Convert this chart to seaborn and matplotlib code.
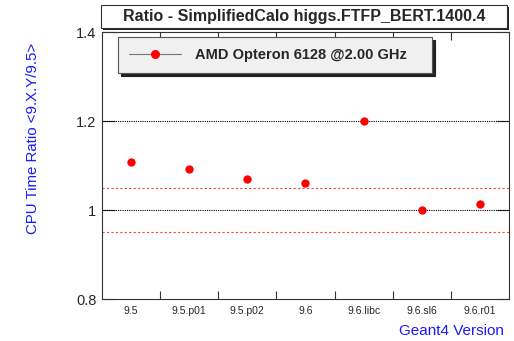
import matplotlib
matplotlib.use("Agg")
import matplotlib.pyplot as plt
from matplotlib.lines import Line2D
from matplotlib.patches import Rectangle
import seaborn as sns
import pandas as pd

versions = ["9.5", "9.5.p01", "9.5.p02", "9.6", "9.6.libc", "9.6.sl6", "9.6.r01"]
ratios = [1.108, 1.092, 1.070, 1.061, 1.200, 1.000, 1.013]
yticks = [0.8, 1.0, 1.2, 1.4]
ytick_labels = ["0.8", "1", "1.2", "1.4"]
title = "Ratio - SimplifiedCalo higgs.FTFP_BERT.1400.4"
legend_label = "AMD Opteron 6128 @2.00 GHz"

sns.set_theme(style="white")
plt.rcParams['font.family'] = ['Liberation Sans', 'DejaVu Sans']

W, H = 514, 341
fig = plt.figure(figsize=(W / 100, H / 100), dpi=100)
ax = fig.add_axes([102 / W, 1 - 299 / H, (509 - 102) / W, (299 - 32) / H])

df = pd.DataFrame({"version": versions, "ratio": ratios})
sns.scatterplot(data=df, x="version", y="ratio", ax=ax, color="#ff0000",
                s=36, linewidth=0, zorder=5, legend=False)

ax.set_xlim(-0.5, len(versions) - 0.5)
ax.set_ylim(0.8, 1.4)

# reference lines
for y in [1.2, 1.0]:
    ax.axhline(y, color="black", lw=0.8, ls=(0, (1, 1)), zorder=2)
for y in [1.05, 0.95]:
    ax.axhline(y, color="#ff4040", lw=0.8, ls=(0, (2, 2)), zorder=2)

# ticks
ax.set_xticks(range(len(versions)))
ax.set_xticklabels(versions, fontsize=7.5)
ax.set_xticks([i + 0.5 for i in range(len(versions) - 1)], minor=True)
ax.tick_params(axis="x", which="major", length=0, pad=5)
ax.tick_params(axis="x", which="minor", direction="in", length=6, width=0.8,
               top=True, bottom=True, color="#333333")
ax.set_yticks(yticks)
ax.set_yticklabels(ytick_labels, fontsize=10.5)
ax.tick_params(axis="y", which="major", direction="in", length=9, width=0.8,
               left=True, right=True, color="#333333", pad=4)
ax.set_xlabel("")
ax.set_ylabel("")
for sp in ax.spines.values():
    sp.set_color("#333333")
    sp.set_linewidth(0.8)

# axis titles
fig.text(33 / W, 1 - 43 / H, "CPU Time Ratio <9.X.Y/9.5>", rotation=90,
         ha="center", va="top", color="#1a1aff", fontsize=10.8)
fig.text(504 / W, 1 - 331 / H, "Geant4 Version", ha="right", va="center",
         color="#1a1aff", fontsize=11)

# title box
x0, x1, y0, y1 = 101, 507, 5, 28
fig.patches.append(Rectangle((x0 / W + 2 / W, 1 - (y1 + 2) / H), (x1 - x0) / W, (y1 - y0) / H,
                             transform=fig.transFigure, facecolor="#222222", edgecolor="none", zorder=1))
fig.patches.append(Rectangle((x0 / W, 1 - y1 / H), (x1 - x0) / W, (y1 - y0) / H,
                             transform=fig.transFigure, facecolor="white", edgecolor="#333333",
                             lw=0.8, zorder=2))
fig.text((x0 + x1) / 2 / W, 1 - (y0 + y1) / 2 / H, title, ha="center", va="center",
         fontsize=11.5, fontweight="bold", zorder=3)

# legend
handle = Line2D([0], [0], color="#777777", lw=0.8, marker="o", markersize=5.5,
                markerfacecolor="#ff0000", markeredgecolor="#ff0000")
lx0, lx1, ly0, ly1 = 118, 432, 38, 72
leg = ax.legend([handle], [legend_label], loc="center left",
                bbox_to_anchor=(lx0 / W, 1 - ly1 / H, (lx1 - lx0) / W, (ly1 - ly0) / H),
                bbox_transform=fig.transFigure, mode="expand",
                prop={"size": 10.5, "weight": "bold"}, handlelength=3.6,
                handletextpad=0.9, borderpad=0.75, frameon=True, fancybox=False,
                shadow={"color": "#222222", "alpha": 1}, facecolor="#f0f0f0",
                edgecolor="#555555", framealpha=1, borderaxespad=0)
leg.get_frame().set_linewidth(0.8)

fig.savefig("out.png", dpi=100)
